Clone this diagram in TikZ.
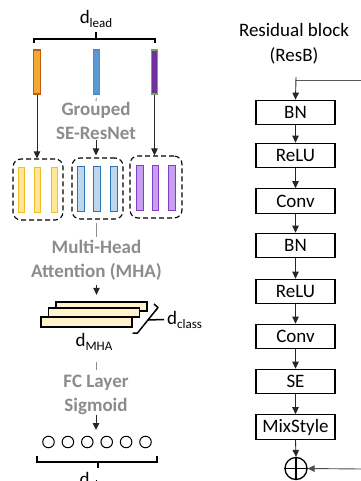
\documentclass[tikz,border=0pt]{standalone}
\usepackage{fontspec}
\setmainfont{Carlito}
\usetikzlibrary{arrows.meta}
\definecolor{orF}{RGB}{240,170,50}
\definecolor{orB}{RGB}{197,90,17}
\definecolor{blF}{RGB}{91,155,213}
\definecolor{blB}{RGB}{80,140,200}
\definecolor{puF}{RGB}{112,48,160}
\definecolor{puB}{RGB}{112,173,71}
\definecolor{yeF}{RGB}{255,230,153}
\definecolor{yeB}{RGB}{240,190,40}
\definecolor{lbF}{RGB}{189,215,238}
\definecolor{lbB}{RGB}{46,117,182}
\definecolor{lpF}{RGB}{200,160,240}
\definecolor{lpB}{RGB}{130,60,200}
\definecolor{plF}{RGB}{255,242,204}
\definecolor{grT}{RGB}{140,140,140}
\newcommand\sbs[1]{\raisebox{-0.22em}{\fontsize{13}{13}\selectfont #1}}
\begin{document}
\begin{tikzpicture}[x=1pt,y=-1pt,
  font=\fontsize{19}{24}\selectfont,
  arr/.style={-{Triangle[length=7pt,width=6.5pt]}, line width=0.9pt, black!85},
  tick/.style={line width=0.9pt, grT},
  bar/.style={draw, inner sep=0pt, minimum width=6.5pt, minimum height=44pt, line width=1.1pt},
  gbox/.style={draw, dashed, dash pattern=on 5pt off 3pt, rounded corners=8pt, line width=1.1pt, inner sep=0pt},
  gtext/.style={font=\fontsize{19}{24}\selectfont\bfseries, text=grT, align=center, inner sep=0pt},
  plate/.style={draw, fill=plF, line width=1.8pt, inner sep=0pt, minimum width=91pt, minimum height=9.5pt},
  rbox/.style={draw, line width=1.2pt, inner sep=0pt, minimum width=79pt, minimum height=24.5pt},
  dot/.style={draw, circle, line width=1pt, inner sep=0pt, minimum size=11.5pt}]
\useasboundingbox (0,0) rectangle (360,481);

% d_lead bracket
\node[inner sep=0pt] (dlead) at (96,19) {d\sbs{lead}};
\coordinate (brL) at (34,43);
\coordinate (brR) at (155,43);
\coordinate (brM) at (96,32);
\draw[line width=1.5pt] (brL) -- ++(0,-4) -| (brR);
\draw[line width=1.5pt] (brM) -- (96,39);

% top bars
\node[bar, draw=orB, fill=orF] (o1) at (37,72) {};
\node[bar, draw=blB, fill=blF] (b1) at (96.5,72) {};
\node[bar, draw=puB, fill=puF] (u1) at (154.5,72) {};

% grouped text
\node[gtext] (gse) at (96,121) {Grouped\\SE-ResNet};

% dashed group boxes
\node[gbox, minimum width=50pt, minimum height=61pt] (g1) at (38,189.5) {};
\node[gbox, minimum width=51pt, minimum height=61pt] (g2) at (97.5,188.5) {};
\node[gbox, minimum width=52pt, minimum height=62pt] (g3) at (156,187) {};

% bars in groups
\foreach \x [count=\i] in {21.5,37.5,54.5}
  \node[bar, draw=yeB, fill=yeF, minimum height=45pt, line width=1pt] (y\i) at (\x,189.5) {};
\foreach \x [count=\i] in {81,97,114}
  \node[bar, draw=lbB, fill=lbF, minimum height=45pt, line width=1pt] (l\i) at (\x,188.5) {};
\foreach \x [count=\i] in {140,155.5,172}
  \node[bar, draw=lpB, fill=lpF, minimum height=45pt, line width=1pt] (q\i) at (\x,187.5) {};

% arrows into groups
\draw[arr] (o1.south) -- (o1.south |- g1.north);
\draw[arr] (u1.south) -- (u1.south |- g3.north);
\draw[tick, shorten <=3pt, shorten >=1pt] (b1.south) -- (gse.north);
\draw[arr, shorten >=2pt] (gse.south) -- (gse.south |- g2.north);

% MHA
\node[gtext, anchor=north] (mha) at (96.5,240) {Multi-Head\\Attention (MHA)};
\draw[tick, shorten <=3pt, shorten >=3pt] (g2.south -| mha.north) -- (mha.north);

% plates
\node[plate] (p1) at (101.5,306.5) {};
\node[plate] (p2) at (94,312.5) {};
\node[plate] (p3) at (86.5,322) {};
\draw[arr, shorten <=4pt, shorten >=6pt] (mha.south) -- (mha.south |- p1.north);

% side bracket
\coordinate (sbA) at (154,304);
\coordinate (sbB) at (158,307.5);
\coordinate (sbC) at (137.5,333);
\coordinate (sbD) at (132.5,333);
\coordinate (sbM) at (148,320);
\draw[line width=1.5pt, line join=round] (sbA) -- (sbB) -- (sbC) -- (sbD);
\draw[line width=1.5pt] (sbM) -- (164,319.5);
\node[inner sep=0pt, anchor=west] (dcls) at (167,320) {d\sbs{class}};

\node[inner sep=0pt] (dmha) at (94,342) {d\sbs{MHA}};

% FC
\node[gtext, anchor=north] (fc) at (96,375) {FC Layer\\Sigmoid};
\draw[tick, shorten <=11pt, shorten >=5pt] (dmha.south -| fc.north) -- (fc.north);
\coordinate (ctop) at (97,430);
\draw[arr] (fc.south) -- (fc.south |- ctop);

% circles
\foreach \i in {0,...,5}
  \node[dot] (c\i) at (48.5+19.4*\i,442) {};

% bottom bracket
\coordinate (bbL) at (37,456);
\coordinate (bbR) at (157,456);
\draw[line width=1.5pt] (bbL) -- ++(0,6) -| (bbR);
\draw[line width=1.5pt] (98,462) -- (98,467.5);
\node[inner sep=0pt, anchor=north] (dcl2) at (97,472) {d\sbs{class}};

% right column
\node[align=center, inner sep=0pt, font=\fontsize{19}{25}\selectfont] (title) at (294,44) {Residual block\\(ResB)};
\node[rbox] (r1) at (295.5,112.5) {BN};
\node[rbox] (r2) at (295.5,155.5) {ReLU};
\node[rbox] (r3) at (295.5,201) {Conv};
\node[rbox] (r4) at (295.5,245.5) {BN};
\node[rbox] (r5) at (295.5,291.5) {ReLU};
\node[rbox] (r6) at (295.5,336.5) {Conv};
\node[rbox] (r7) at (295.5,381.5) {SE};
\node[rbox] (r8) at (295.5,427) {MixStyle};
\node[draw, circle, line width=1.3pt, inner sep=0pt, minimum size=22pt] (op) at (296,468.5) {};
\draw[line width=1.8pt] (op.north) -- (op.south) (op.west) -- (op.east);

\coordinate (sk0) at (296,77);
\coordinate (sk1) at (296,80);
\coordinate (sk2) at (361,80);
\coordinate (sk3) at (361,469);
\draw[line width=0.8pt, black!65] (sk1) -- (sk2);
\draw[arr] (sk0) -- (r1.north);
\foreach \a/\b in {r1/r2,r2/r3,r3/r4,r4/r5,r5/r6,r6/r7,r7/r8,r8/op}
  \draw[arr] (\a.south) -- (\b.north);
\draw[arr, black!70] (sk3) -- (op.east);
\end{tikzpicture}
\end{document}
